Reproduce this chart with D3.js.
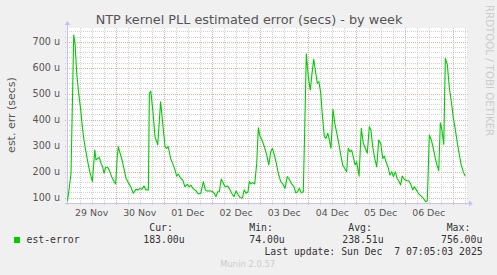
<!DOCTYPE html>
<html>
<head>
<meta charset="utf-8">
<script src="https://cdn.jsdelivr.net/npm/d3@7"></script>
<style>
  body { margin: 0; background: #f0f0f0; }
  svg { display: block; }
</style>
</head>
<body>
<div id="chart"></div>
<script>
// hours since 29 Nov 00:00 and estimated error in microseconds
var hours = [0, 0.75, 1.75, 3.1, 3.75, 4.6, 5.4, 6.6, 7.4, 8.2, 9.6, 10.9, 12.4, 13.6, 14.2, 15.05, 15.85, 16.7, 17.5, 18.2,
  19.0, 20.0, 20.8, 22.0, 23.2, 24.0, 24.8, 25.3, 26.2, 27.2, 28.3, 29.15, 30.3, 31.5, 32.8, 34.1, 35.3, 36.1, 37.0, 38.1,
  39.1, 40.3, 40.8, 41.5, 42.5, 43.6, 44.95, 46.4, 47.4, 48.6, 49.4, 50.2, 51.4, 52.4, 53.6, 54.4, 55.2, 56.4, 57.4, 58.55,
  59.7, 60.7, 61.5, 62.7, 64.0, 65.2, 66.4, 67.7, 68.7, 69.9, 71.0, 72.4, 73.15, 74.0, 74.85, 75.65, 76.6, 77.6, 78.6, 79.8,
  80.6, 81.8, 83.0, 84.0, 85.1, 86.1, 87.1, 88.1, 88.95, 89.95, 90.6, 91.4, 92.3, 93.3, 94.3, 95.1, 95.9, 96.9, 98.1, 99.3,
  100.3, 101.3, 102.1, 103.1, 103.9, 105.05, 106.25, 107.25, 108.4, 109.5, 110.5, 111.7, 112.9, 113.7, 114.7, 115.5, 116.5, 117.5, 118.2, 119.0,
  120.0, 121.0, 121.85, 122.7, 123.5, 124.5, 125.3, 126.2, 127.0, 128.0, 128.8, 129.7, 130.5, 131.3, 132.3, 133.2, 134.2, 135.2, 136.2, 137.1,
  138.1, 139.1, 139.9, 140.8, 141.6, 142.4, 143.3, 144.1, 145.3, 146.4, 147.4, 148.4, 149.4, 150.4, 151.2, 152.1, 153.1, 154.1, 155.1, 156.1,
  157.1, 157.9, 158.7, 159.7, 160.7, 161.6, 162.4, 163.4, 164.2, 165.2, 166.0, 166.8, 167.8, 169.0, 170.0, 171.0, 172.0, 172.8, 173.7, 174.8,
  176.0, 177.3, 178.5, 179.3, 180.3, 181.3, 182.3, 183.3, 184.1, 185.0, 185.8, 186.6, 187.5, 188.3, 189.3, 190.3, 191.3, 192.3, 193.3, 194.3,
  195.3, 196.2, 197.2, 198.2];
var errUs = [88, 130, 194, 726, 694, 578, 514, 437, 373, 322, 258, 206, 162, 283, 245, 251, 255, 232, 219, 194,
  217, 217, 206, 181, 162, 153, 258, 296, 271, 245, 206, 175, 158, 142, 117, 132, 130, 136, 132, 145,
  130, 130, 501, 510, 437, 335, 303, 469, 390, 296, 290, 296, 251, 232, 206, 183, 191, 175, 168, 142,
  151, 142, 148, 134, 127, 114, 117, 162, 130, 125, 127, 123, 117, 104, 123, 123, 172, 155, 142, 145,
  136, 117, 104, 126, 110, 100, 98, 130, 117, 123, 162, 153, 158, 153, 232, 369, 337, 322, 296, 264,
  226, 277, 290, 264, 238, 194, 162, 153, 136, 181, 171, 153, 142, 119, 123, 136, 119, 123, 360, 653,
  565, 514, 578, 632, 591, 540, 546, 501, 418, 335, 328, 348, 322, 290, 440, 386, 348, 309, 264, 226,
  213, 200, 290, 277, 283, 258, 226, 238, 183, 367, 310, 290, 271, 373, 360, 296, 251, 219, 322, 309,
  251, 260, 238, 219, 187, 200, 181, 200, 175, 162, 149, 183, 171, 165, 165, 153, 130, 142, 132, 117,
  108, 98, 85, 88, 341, 322, 290, 251, 226, 204, 388, 360, 305, 636, 610, 521, 469, 405, 360, 309,
  264, 226, 200, 183];

var yTicks = [100, 200, 300, 400, 500, 600, 700];
var dayLabels = ["29 Nov", "30 Nov", "01 Dec", "02 Dec", "03 Dec", "04 Dec", "05 Dec", "06 Dec"];
var legendHeads = ["Cur:", "Min:", "Avg:", "Max:"];
var legendVals = ["183.00u", "74.00u", "238.51u", "756.00u"];

var svgWidth = 497;
var svgHeight = 275;
var plot = { left: 67, right: 467, top: 28, bottom: 203 };

var t0 = Date.UTC(2025, 10, 29, 0, 0);
var hourMs = 3600 * 1000;

var svg = d3.select("#chart").append("svg")
  .attr("width", svgWidth)
  .attr("height", svgHeight);

svg.append("rect")
  .attr("width", svgWidth).attr("height", svgHeight)
  .attr("fill", "#f0f0f0");

var x = d3.scaleTime()
  .domain([new Date(t0 - 0.25 * hourMs), new Date(Date.UTC(2025, 11, 7, 7, 5))])
  .range([plot.left, plot.right]);

var y = d3.scaleLinear()
  .domain([79.6, 752.7])
  .range([plot.bottom, plot.top]);

svg.append("rect")
  .attr("x", plot.left).attr("y", plot.top)
  .attr("width", plot.right - plot.left).attr("height", plot.bottom - plot.top)
  .attr("fill", "#ffffff");

var grid = svg.append("g").attr("shape-rendering", "crispEdges");

// minor grid: every 20u and every 6 hours
var minorY = d3.range(80, 753, 20).filter(function(v) { return v % 100 !== 0; });
grid.selectAll(".hminor").data(minorY).enter().append("line")
  .attr("x1", plot.left - 2).attr("x2", plot.right + 2)
  .attr("y1", function(d) { return Math.round(y(d)) + 0.5; })
  .attr("y2", function(d) { return Math.round(y(d)) + 0.5; })
  .attr("stroke", "#d2d2d2").attr("stroke-dasharray", "1,1");

var minorX = d3.range(0, 200, 6).filter(function(h) { return h % 24 !== 0; });
grid.selectAll(".vminor").data(minorX).enter().append("line")
  .attr("x1", function(d) { return Math.round(x(new Date(t0 + d * hourMs))) + 0.5; })
  .attr("x2", function(d) { return Math.round(x(new Date(t0 + d * hourMs))) + 0.5; })
  .attr("y1", plot.top).attr("y2", plot.bottom + 2)
  .attr("stroke", "#d2d2d2").attr("stroke-dasharray", "1,1");

// major grid
grid.selectAll(".hmajor").data(yTicks).enter().append("line")
  .attr("x1", plot.left - 2).attr("x2", plot.right + 2)
  .attr("y1", function(d) { return Math.round(y(d)) + 0.5; })
  .attr("y2", function(d) { return Math.round(y(d)) + 0.5; })
  .attr("stroke", "#eeaaaa").attr("stroke-dasharray", "1,1");

var dayLines = d3.range(1, 9);
grid.selectAll(".vmajor").data(dayLines).enter().append("line")
  .attr("x1", function(d) { return Math.round(x(new Date(t0 + d * 24 * hourMs))) + 0.5; })
  .attr("x2", function(d) { return Math.round(x(new Date(t0 + d * 24 * hourMs))) + 0.5; })
  .attr("y1", plot.top).attr("y2", plot.bottom + 3)
  .attr("stroke", "#eeaaaa").attr("stroke-dasharray", "1,1");

// y tick labels
svg.append("g").selectAll("text").data(yTicks).enter().append("text")
  .attr("x", 60)
  .attr("y", function(d) { return y(d) + 3.5; })
  .attr("text-anchor", "end")
  .attr("font-family", "DejaVu Sans")
  .attr("font-size", 9.6)
  .attr("fill", "#555")
  .text(function(d) { return d + " u"; });

// x labels at noon
svg.append("g").selectAll("text").data(dayLabels).enter().append("text")
  .attr("x", function(d, i) { return x(new Date(t0 + (i * 24 + 12) * hourMs)); })
  .attr("y", 216)
  .attr("text-anchor", "middle")
  .attr("font-family", "DejaVu Sans")
  .attr("font-size", 9.4)
  .attr("fill", "#555")
  .text(function(d) { return d; });

// axes with arrows
var axisColor = "#c4c4ee";
svg.append("line")
  .attr("x1", plot.left + 0.5).attr("x2", plot.left + 0.5)
  .attr("y1", plot.bottom + 2).attr("y2", plot.top - 4)
  .attr("stroke", axisColor);
svg.append("line")
  .attr("x1", plot.left - 2).attr("x2", plot.right + 3)
  .attr("y1", plot.bottom + 0.5).attr("y2", plot.bottom + 0.5)
  .attr("stroke", axisColor);
svg.append("path")
  .attr("d", "M" + (plot.left - 2.5) + "," + (plot.top - 3) + "L" + (plot.left + 0.5) + "," + (plot.top - 7) + "L" + (plot.left + 3.5) + "," + (plot.top - 3) + "Z")
  .attr("fill", axisColor);
svg.append("path")
  .attr("d", "M" + (plot.right + 2) + "," + (plot.bottom - 2.5) + "L" + (plot.right + 6) + "," + (plot.bottom + 0.5) + "L" + (plot.right + 2) + "," + (plot.bottom + 3.5) + "Z")
  .attr("fill", axisColor);

// the series
var line = d3.line()
  .x(function(d, i) { return x(new Date(t0 + hours[i] * hourMs)); })
  .y(function(d) { return y(d); });

svg.append("path")
  .datum(errUs)
  .attr("d", line)
  .attr("fill", "none")
  .attr("stroke", "#00cc00")
  .attr("stroke-width", 1.1)
  .attr("stroke-linejoin", "round");

// title and labels
svg.append("text")
  .attr("x", 249).attr("y", 24)
  .attr("text-anchor", "middle")
  .attr("font-family", "DejaVu Sans")
  .attr("font-size", 12.8)
  .attr("fill", "#555")
  .text("NTP kernel PLL estimated error (secs) - by week");

svg.append("text")
  .attr("transform", "translate(15,115)rotate(-90)")
  .attr("text-anchor", "middle")
  .attr("font-family", "DejaVu Sans")
  .attr("font-size", 11)
  .attr("fill", "#555")
  .text("est. err (secs)");

svg.append("text")
  .attr("transform", "translate(486,5)rotate(90)")
  .attr("text-anchor", "start")
  .attr("font-family", "DejaVu Sans")
  .attr("font-size", 10.2)
  .attr("fill", "#cccccc")
  .text("RRDTOOL / TOBI OETIKER");

// legend
var mono = "DejaVu Sans Mono";
svg.append("rect")
  .attr("x", 14).attr("y", 237).attr("width", 6).attr("height", 6)
  .attr("fill", "#00cc00");
svg.append("text")
  .attr("x", 26.5).attr("y", 243)
  .attr("font-family", mono).attr("font-size", 9.8).attr("fill", "#333")
  .text("est-error");

var headX = [149.3, 249.3, 348.3, 446.7];
var valX = [143.3, 249.3, 342.3, 441];
svg.append("g").selectAll("text").data(legendHeads).enter().append("text")
  .attr("x", function(d, i) { return headX[i]; })
  .attr("y", 231)
  .attr("font-family", mono).attr("font-size", 9.8).attr("fill", "#333")
  .text(function(d) { return d; });
svg.append("g").selectAll("text").data(legendVals).enter().append("text")
  .attr("x", function(d, i) { return valX[i]; })
  .attr("y", 243)
  .attr("font-family", mono).attr("font-size", 9.8).attr("fill", "#333")
  .text(function(d) { return d; });

svg.append("text")
  .attr("x", 482.7).attr("y", 254.5)
  .attr("text-anchor", "end")
  .attr("font-family", mono).attr("font-size", 9.8).attr("fill", "#333")
  .attr("xml:space", "preserve")
  .style("white-space", "pre")
  .text("Last update: Sun Dec  7 07:05:03 2025");

svg.append("text")
  .attr("x", 247.7).attr("y", 266.5)
  .attr("text-anchor", "middle")
  .attr("font-family", "DejaVu Sans")
  .attr("font-size", 8.4)
  .attr("fill", "#cccccc")
  .text("Munin 2.0.57");
</script>
</body>
</html>
